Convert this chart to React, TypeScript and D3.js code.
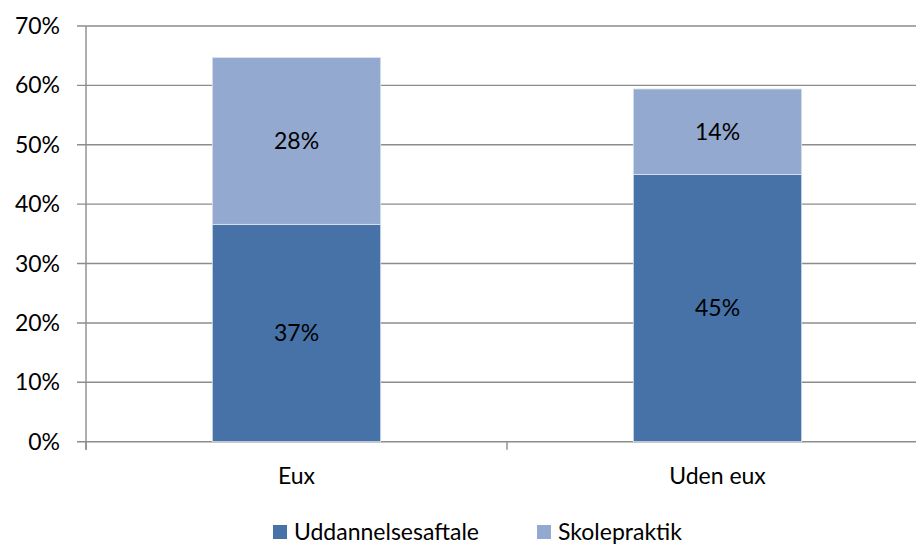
import React from "react";
import * as d3 from "d3";

const categories = ["Eux", "Uden eux"];
const seriesNames = ["Uddannelsesaftale", "Skolepraktik"];
const uddannelsesaftale = [36.6, 45.0];
const skolepraktik = [28.1, 14.4];
const yTicks = [0, 10, 20, 30, 40, 50, 60, 70];
const colors = ["#4672A8", "#94A9D0"];

const W = 916;
const H = 546;
const FONT = "Lato, 'Open Sans', sans-serif";
const FS = 23;

export default function App() {
  const x = d3.scaleBand<string>().domain(categories).range([86, 928]).padding(0);
  const y = d3.scaleLinear().domain([0, 70]).range([441.7, 26]);
  const barW = x.bandwidth() * 0.4;
  const stacked = categories.map((c, i) => {
    const a = uddannelsesaftale[i];
    const b = skolepraktik[i];
    return [
      { cat: c, y0: 0, y1: a, v: a, color: colors[0] },
      { cat: c, y0: a, y1: a + b, v: b, color: colors[1] },
    ];
  });
  const axisX = 86;
  return (
    <svg width={W} height={H} style={{ position: "absolute", left: 0, top: 0, background: "#fff" }}>
      {yTicks.map((t) => (
        <g key={t}>
          <line x1={axisX - 9} x2={W} y1={y(t)} y2={y(t)} stroke="#8c8c8c" strokeWidth={1.4} />
          <text x={60} y={y(t)} dy="0.35em" textAnchor="end" fontFamily={FONT} fontSize={FS} fill="#000">
            {t}%
          </text>
        </g>
      ))}
      <line x1={axisX} x2={axisX} y1={y(70)} y2={y(0) + 8} stroke="#8c8c8c" strokeWidth={1.4} />
      {[86, 86 + x.bandwidth()].map((tx, i) => (
        <line key={i} x1={tx} x2={tx} y1={y(0)} y2={y(0) + 8} stroke="#8c8c8c" strokeWidth={1.4} />
      ))}
      {stacked.map((segs, i) =>
        segs.map((s, j) => {
          const cx = (x(s.cat) as number) + x.bandwidth() / 2;
          return (
            <g key={`${i}-${j}`}>
              <rect
                x={cx - barW / 2}
                width={barW}
                y={y(s.y1)}
                height={y(s.y0) - y(s.y1)}
                fill={s.color}
                stroke="#dfe6f1"
                strokeWidth={0.8}
              />
              <text
                x={cx}
                y={(y(s.y0) + y(s.y1)) / 2}
                dy="0.35em"
                textAnchor="middle"
                fontFamily={FONT}
                fontSize={FS}
                fill="#000"
              >
                {Math.round(s.v)}%
              </text>
            </g>
          );
        })
      )}
      {categories.map((c) => (
        <text
          key={c}
          x={(x(c) as number) + x.bandwidth() / 2}
          y={484}
          textAnchor="middle"
          fontFamily={FONT}
          fontSize={FS}
          fill="#000"
        >
          {c}
        </text>
      ))}
      {seriesNames.map((n, i) => {
        const lx = [273, 537][i];
        return (
          <g key={n}>
            <rect x={lx} y={525} width={14} height={14} fill={colors[i]} />
            <text x={lx + 21} y={540} fontFamily={FONT} fontSize={FS} fill="#000">
              {n}
            </text>
          </g>
        );
      })}
    </svg>
  );
}
